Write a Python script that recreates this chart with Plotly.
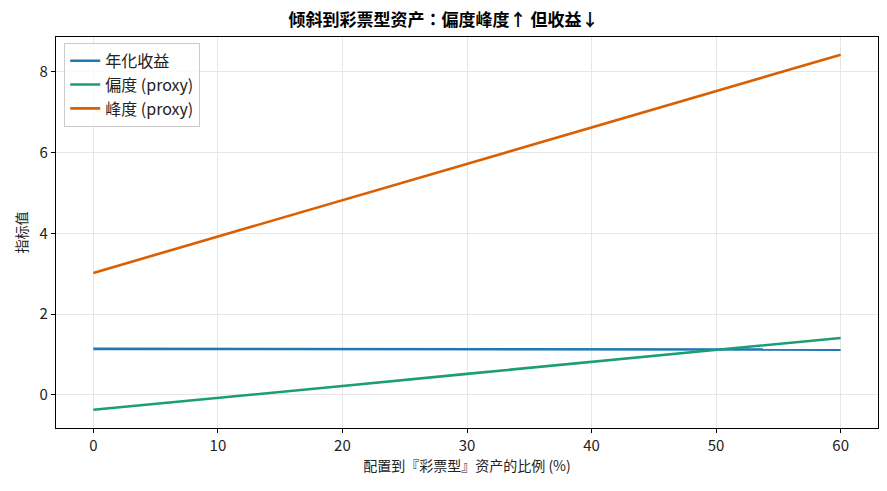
import plotly.graph_objects as go

x_vals = [0, 10, 20, 30, 40, 50, 60]
annual_return = [1.14, 1.135, 1.13, 1.13, 1.125, 1.12, 1.12]
skew_proxy = [-0.37, -0.08, 0.22, 0.52, 0.82, 1.12, 1.41]
kurt_proxy = [3.02, 3.92, 4.82, 5.72, 6.62, 7.52, 8.42]

names = ["年化收益", "偏度 (proxy)", "峰度 (proxy)"]
colors = ["#1f77b4", "#1b9e77", "#d95f02"]
FONT = "Noto Sans CJK JP"

fig = go.Figure()
for name, ys, c in zip(names, [annual_return, skew_proxy, kurt_proxy], colors):
    fig.add_trace(go.Scatter(x=x_vals, y=ys, mode="lines", name=name,
                             line=dict(color=c, width=2.6)))

axis_common = dict(showline=True, linecolor="black", linewidth=1.2, mirror=True,
                   ticks="outside", ticklen=4, tickcolor="black",
                   showgrid=True, gridcolor="#e6e6e6", gridwidth=1, zeroline=False,
                   tickfont=dict(size=15, color="#222"))
fig.update_xaxes(range=[-3, 63], tickvals=[0, 10, 20, 30, 40, 50, 60],
                 title=dict(text="配置到『彩票型』资产的比例 (%)", font=dict(size=14, color="#222"), standoff=6),
                 **axis_common)
fig.update_yaxes(range=[-0.82, 8.86], tickvals=[0, 2, 4, 6, 8],
                 title=dict(text="指标值", font=dict(size=14, color="#222"), standoff=8),
                 **axis_common)
fig.update_layout(
    width=887, height=491,
    margin=dict(l=56, r=9, t=37, b=63),
    paper_bgcolor="white", plot_bgcolor="white",
    font=dict(family=FONT, size=14, color="#222"),
    title=dict(text="<b>倾斜到彩票型资产：偏度峰度↑ 但收益↓</b>", x=0.5, xanchor="center",
               y=0.96, yanchor="middle", font=dict(size=17, color="black")),
    legend=dict(x=0.01, y=0.985, xanchor="left", yanchor="top",
                bordercolor="#cccccc", borderwidth=1, bgcolor="rgba(255,255,255,0.8)",
                font=dict(size=16)),
    showlegend=True,
)
fig.write_html("out.html")
